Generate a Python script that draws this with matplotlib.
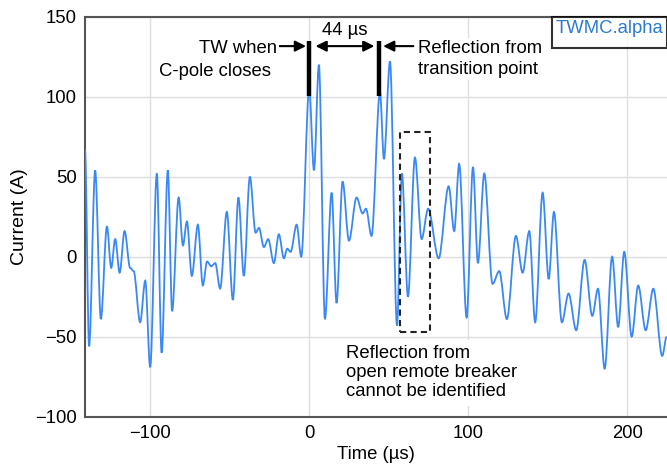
import numpy as np
import matplotlib
matplotlib.use("Agg")
import matplotlib.pyplot as plt
from matplotlib.path import Path
from matplotlib.patches import PathPatch, Rectangle

plt.rcParams['font.family'] = ['Liberation Sans', 'DejaVu Sans']
FS = 13.3

# TWMC.alpha current trace, turning points of the waveform
t_us = [-141.0, -138.4, -134.6, -131.0, -127.2, -124.5, -122.0, -119.2, -116.1, -112.6,
        -110.4, -106.3, -103.1, -100.0, -95.8, -92.8, -88.9, -86.2, -82.1, -79.4,
        -76.9, -73.8, -70.0, -66.9, -64.2, -61.6, -59.1, -56.0, -51.8, -48.0,
        -44.5, -41.1, -37.3, -33.7, -31.6, -28.5, -25.8, -22.2, -19.1, -15.9,
        -13.8, -11.7, -7.9, -5.0, 0.0, 3.0, 6.1, 9.9, 14.1, 17.2,
        21.0, 25.0, 29.8, 33.6, 35.7, 39.2, 44.5, 47.0, 50.8, 55.2,
        58.3, 62.1, 66.5, 70.7, 74.8, 81.4, 87.7, 91.2, 94.3, 99.0,
        103.0, 106.1, 110.1, 115.3, 119.5, 124.3, 130.0, 134.2, 138.4, 142.1,
        146.8, 150.6, 153.9, 158.9, 163.1, 167.9, 173.2, 178.0, 181.6, 185.8,
        190.5, 194.3, 198.1, 202.8, 206.9, 211.6, 216.4, 222.0, 224.8]
current_a = [67, -56, 54, -39, 19, -7, 11, -10, 16, -7,
             -9, -41, -15, -69, 52, -60, 54, -34, 37, 7,
             22, -12, 20, -18, -3, -6, -4, -20, 28, -27,
             37, -12, 50, 15, 18, 6, 11, -4, 14, -1,
             5, 3, 20, 0, 105, 54, 120, -39, 40, -29,
             47, 10, 37, 27, 30, 13, 103, 61, 122, -43,
             52, -25, 62, 11, 30, -1, 44, 16, 58, -38,
             56, -4, 52, -17, -9, -39, 13, -10, 16, -41,
             40, -14, 28, -41, -23, -46, -2, -37, -20, -70,
             0, -44, 3, -50, -18, -46, -20, -62, -50]

tw_close = 0.0       # TW when C-pole closes
tw_reflect = 44.0    # reflection from transition point
x_ticks = [-100, 0, 100, 200]
y_ticks = [-100, -50, 0, 50, 100, 150]

line_color = '#3a88f5'

fig = plt.figure(figsize=(6.67, 4.66), dpi=100)
ax = fig.add_axes([0.1274, 0.1058, 0.8726, 0.8584])
ax.set_xlim(-141, 225)
ax.set_ylim(-100, 150)
ax.set_xticks(x_ticks)
ax.set_yticks(y_ticks)
ax.set_yticklabels(['\u2212100', '\u221250', '0', '50', '100', '150'])
ax.set_xticklabels(['\u2212100', '0', '100', '200'])
ax.tick_params(length=0, labelsize=FS, pad=6)
ax.grid(True, color='#dedede', lw=1)
ax.set_axisbelow(True)
for s in ax.spines.values():
    s.set_color('#555555')
    s.set_linewidth(1.5)
ax.spines['right'].set_visible(False)
ax.set_xlabel('Time (\u00b5s)', fontsize=FS, labelpad=3)
ax.set_ylabel('Current (A)', fontsize=14, labelpad=5)

# smooth trace: cubic segments with flat tangents at each turning point
verts = [(t_us[0], current_a[0])]
codes = [Path.MOVETO]
for (x0, y0), (x1, y1) in zip(zip(t_us[:-1], current_a[:-1]), zip(t_us[1:], current_a[1:])):
    dx = (x1 - x0) / 3.0
    verts += [(x0 + dx, y0), (x1 - dx, y1), (x1, y1)]
    codes += [Path.CURVE4] * 3
trace = PathPatch(Path(verts, codes), facecolor='none', edgecolor=line_color,
                  lw=1.3, zorder=3, clip_on=True)
ax.add_patch(trace)

# markers for the two travelling waves
for tb in (tw_close, tw_reflect):
    ax.plot([tb, tb], [100.3, 134.7], color='black', lw=3.2, solid_capstyle='butt', zorder=5)

arr = dict(arrowstyle='-|>', color='black', lw=1.5, mutation_scale=16,
           shrinkA=0, shrinkB=0)
ax.annotate('', xy=(-2.0, 131.6), xytext=(-19.0, 131.6), arrowprops=arr, zorder=6)
ax.annotate('', xy=(46.5, 131.6), xytext=(65.5, 131.6), arrowprops=arr, zorder=6)
ax.annotate('', xy=(41.0, 131.6), xytext=(4.0, 131.6),
            arrowprops=dict(arr, arrowstyle='<|-|>'), zorder=6)

bg = dict(facecolor='white', edgecolor='none', pad=1.5)
ax.text(22.5, 141.5, '44 \u00b5s', ha='center', va='center', fontsize=FS, bbox=bg, zorder=6)
ax.text(-20.3, 130.0, 'TW when', ha='right', va='center', fontsize=FS, bbox=bg, zorder=6)
ax.text(-24.0, 115.8, 'C-pole closes', ha='right', va='center', fontsize=FS, bbox=bg, zorder=6)
ax.text(68.4, 123.3, 'Reflection from\ntransition point', ha='left', va='center',
        fontsize=FS, linespacing=1.3, bbox=bg, zorder=6)
ax.text(23.0, -72.5, 'Reflection from\nopen remote breaker\ncannot be identified',
        ha='left', va='center', fontsize=FS, linespacing=1.14,
        bbox=dict(facecolor='white', edgecolor='none', pad=4), zorder=6)

# dashed window where the remote-breaker reflection should appear
ax.add_patch(Rectangle((57.0, -47.0), 18.9, 124.8, fill=False, ls=(0, (3, 2)),
                       lw=1.5, edgecolor='#222222', zorder=6))

leg = ax.legend([], [], title='TWMC.alpha', loc='upper right', borderaxespad=0,
                frameon=True, fancybox=False, title_fontsize=FS, borderpad=0.25)
leg.get_title().set_color('#2a7ad0')
leg.get_frame().set_edgecolor('black')
leg.get_frame().set_linewidth(1.5)

fig.savefig('out.png', dpi=100)
